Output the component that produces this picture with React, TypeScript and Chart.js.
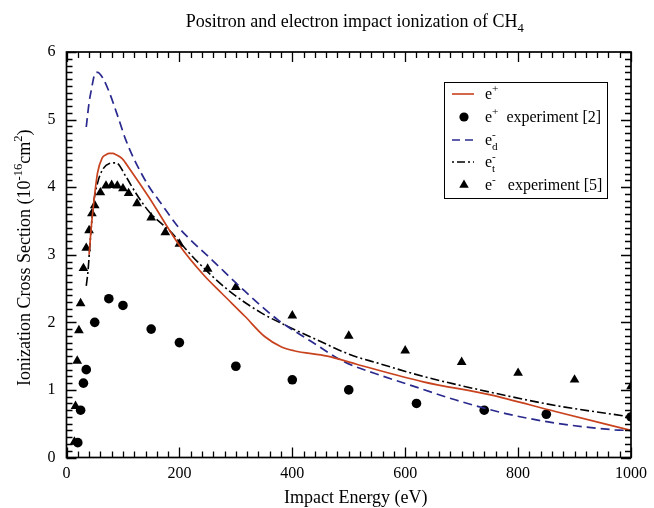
import React, { useEffect, useRef } from 'react';
import { Chart, registerables } from 'chart.js';

Chart.register(...registerables);

// ---------------- data ----------------
const X_MIN = 0;
const X_MAX = 1000;
const X_STEP = 200;
const X_MINOR = 20;
const Y_MIN = 0;
const Y_MAX = 6;
const Y_STEP = 1;
const Y_MINOR = 0.1;

const TITLE_MAIN = 'Positron and electron impact ionization of CH';
const TITLE_SUB = '4';
const X_TITLE = 'Impact Energy (eV)';

// e+ theory (red solid)
const positronTheoryE = [40, 44, 47, 55, 63, 70, 76, 82, 88, 99, 111, 146, 200, 243, 275, 316, 351, 380, 403, 462, 514, 632, 749, 866, 1000];
const positronTheorySigma = [3.0, 3.42, 3.67, 4.21, 4.43, 4.48, 4.50, 4.50, 4.48, 4.42, 4.28, 3.85, 3.14, 2.70, 2.43, 2.09, 1.79, 1.64, 1.58, 1.50, 1.38, 1.12, 0.93, 0.68, 0.40];

// e+ experiment [2] (circles)
const positronExpE = [20, 25, 30, 35, 50, 75, 100, 150, 200, 300, 400, 500, 620, 740, 850, 1000];
const positronExpSigma = [0.22, 0.70, 1.10, 1.30, 2.00, 2.35, 2.25, 1.90, 1.70, 1.35, 1.15, 1.00, 0.80, 0.70, 0.64, 0.60];

// e- (d) theory (blue dashed)
const electronDE = [35, 40, 44, 50, 55, 64, 76, 90, 105, 120, 146, 164, 199, 216, 257, 316, 374, 433, 491, 544, 602, 690, 778, 866, 971, 1000];
const electronDSigma = [4.89, 5.25, 5.44, 5.67, 5.70, 5.62, 5.40, 5.07, 4.70, 4.41, 4.01, 3.80, 3.40, 3.25, 2.93, 2.46, 2.04, 1.72, 1.42, 1.25, 1.09, 0.85, 0.65, 0.51, 0.41, 0.40];

// e- (t) theory (black dash-dot)
const electronTE = [35, 38, 42, 47, 55, 64, 76, 88, 105, 123, 146, 187, 199, 234, 286, 345, 392, 444, 503, 550, 632, 749, 866, 1000];
const electronTSigma = [2.54, 2.75, 3.2, 3.7, 4.06, 4.26, 4.35, 4.36, 4.16, 3.91, 3.64, 3.32, 3.20, 2.88, 2.48, 2.14, 1.94, 1.74, 1.52, 1.40, 1.20, 0.97, 0.77, 0.60];

// e- experiment [5] (triangles)
const electronExpE = [14, 16, 19, 22, 25, 30, 35, 40, 45, 50, 60, 70, 80, 90, 100, 110, 125, 150, 175, 200, 250, 300, 400, 500, 600, 700, 800, 900, 1000];
const electronExpSigma = [0.23, 0.76, 1.43, 1.88, 2.28, 2.80, 3.10, 3.36, 3.61, 3.73, 3.92, 4.02, 4.03, 4.02, 3.98, 3.91, 3.76, 3.55, 3.33, 3.16, 2.79, 2.52, 2.10, 1.80, 1.58, 1.41, 1.25, 1.15, 1.05];

// ---------------- styles ----------------
const RED = '#c8421e';
const BLUE = '#2a2a8e';
const BLACK = '#000000';
const FONT = "'Liberation Serif', 'Times New Roman', serif";
const DASH_D = [9, 5];
const DASH_T = [9, 3, 2, 3];

const toXY = (xs: number[], ys: number[]) => xs.map((x, i) => ({ x, y: ys[i] }));

type Seg = { t: string; m?: 'n' | 'sup' | 'sub' | 'supsub'; sub?: string };

function segWidth(ctx: CanvasRenderingContext2D, s: Seg, size: number) {
  const m = s.m || 'n';
  if (m === 'n') {
    ctx.font = `${size}px ${FONT}`;
    return ctx.measureText(s.t).width;
  }
  ctx.font = `${size * 0.7}px ${FONT}`;
  if (m === 'supsub') {
    return Math.max(ctx.measureText(s.t).width, ctx.measureText(s.sub || '').width);
  }
  return ctx.measureText(s.t).width;
}

function richWidth(ctx: CanvasRenderingContext2D, segs: Seg[], size: number) {
  return segs.reduce((w, s) => w + segWidth(ctx, s, size), 0);
}

function drawRich(ctx: CanvasRenderingContext2D, x: number, y: number, segs: Seg[], size: number) {
  let cx = x;
  ctx.textBaseline = 'alphabetic';
  ctx.textAlign = 'left';
  for (const s of segs) {
    const m = s.m || 'n';
    const w = segWidth(ctx, s, size);
    if (m === 'n') {
      ctx.font = `${size}px ${FONT}`;
      ctx.fillText(s.t, cx, y);
    } else {
      ctx.font = `${size * 0.7}px ${FONT}`;
      if (m === 'sup' || m === 'supsub') ctx.fillText(s.t, cx, y - size * 0.45);
      if (m === 'sub') ctx.fillText(s.t, cx, y + size * 0.28);
      if (m === 'supsub') ctx.fillText(s.sub || '', cx, y + size * 0.3);
    }
    cx += w;
  }
}

const legendItems: { kind: string; segs: Seg[] }[] = [
  { kind: 'red', segs: [{ t: 'e' }, { t: '+', m: 'sup' }] },
  { kind: 'circle', segs: [{ t: 'e' }, { t: '+', m: 'sup' }, { t: '  experiment [2]' }] },
  { kind: 'blue', segs: [{ t: 'e' }, { t: '-', m: 'supsub', sub: 'd' }] },
  { kind: 'dashdot', segs: [{ t: 'e' }, { t: '-', m: 'supsub', sub: 't' }] },
  { kind: 'triangle', segs: [{ t: 'e' }, { t: '-', m: 'sup' }, { t: '   experiment [5]' }] },
];

const framePlugin = {
  id: 'framePlugin',
  afterDraw(chart: any) {
    const { ctx, chartArea: a, scales } = chart;
    const xs = scales.x;
    const ys = scales.y;
    ctx.save();
    ctx.setLineDash([]);
    ctx.lineCap = 'butt';
    ctx.strokeStyle = '#000';
    ctx.fillStyle = '#000';
    // frame
    ctx.lineWidth = 1.7;
    ctx.strokeRect(a.left, a.top, a.right - a.left, a.bottom - a.top);
    // ticks
    ctx.lineWidth = 1.3;
    const nx = Math.round((X_MAX - X_MIN) / X_MINOR);
    for (let i = 0; i <= nx; i++) {
      const v = X_MIN + i * X_MINOR;
      const px = Math.round(xs.getPixelForValue(v)) + 0.5;
      const major = Math.abs(v / X_STEP - Math.round(v / X_STEP)) < 1e-6;
      const len = major ? 10 : 6;
      ctx.beginPath();
      ctx.moveTo(px, a.bottom);
      ctx.lineTo(px, a.bottom - len);
      ctx.moveTo(px, a.top);
      ctx.lineTo(px, a.top + len);
      ctx.stroke();
    }
    const ny = Math.round((Y_MAX - Y_MIN) / Y_MINOR);
    for (let i = 0; i <= ny; i++) {
      const v = Y_MIN + i * Y_MINOR;
      const py = Math.round(ys.getPixelForValue(v)) + 0.5;
      const major = Math.abs(v / Y_STEP - Math.round(v / Y_STEP)) < 1e-6;
      const len = major ? 10 : 6;
      ctx.beginPath();
      ctx.moveTo(a.left, py);
      ctx.lineTo(a.left + len, py);
      ctx.moveTo(a.right, py);
      ctx.lineTo(a.right - len, py);
      ctx.stroke();
    }

    // title
    const tsegs: Seg[] = [{ t: TITLE_MAIN }, { t: TITLE_SUB, m: 'sub' }];
    const tw = richWidth(ctx, tsegs, 18);
    drawRich(ctx, (a.left + a.right) / 2 + 6 - tw / 2, 27, tsegs, 18);

    // x title
    ctx.font = `18px ${FONT}`;
    ctx.textAlign = 'center';
    ctx.textBaseline = 'alphabetic';
    ctx.fillText(X_TITLE, (a.left + a.right) / 2 + 7, 503);

    // y title
    const ysegs: Seg[] = [
      { t: 'Ionization Cross Section (10' },
      { t: '-16', m: 'sup' },
      { t: 'cm' },
      { t: '2', m: 'sup' },
      { t: ')' },
    ];
    const yw = richWidth(ctx, ysegs, 18);
    ctx.save();
    ctx.translate(30, (a.top + a.bottom) / 2 + 3);
    ctx.rotate(-Math.PI / 2);
    drawRich(ctx, -yw / 2, 0, ysegs, 18);
    ctx.restore();

    // legend
    const lx = 444.5, ly = 82.5, lw = 163, lh = 116;
    ctx.fillStyle = '#fff';
    ctx.fillRect(lx, ly, lw, lh);
    ctx.strokeStyle = '#000';
    ctx.lineWidth = 1;
    ctx.strokeRect(lx, ly, lw, lh);
    const rowY = [94, 117, 140, 162, 185];
    legendItems.forEach((it, i) => {
      const yy = rowY[i];
      ctx.save();
      if (it.kind === 'red' || it.kind === 'blue' || it.kind === 'dashdot') {
        ctx.strokeStyle = it.kind === 'red' ? RED : it.kind === 'blue' ? BLUE : BLACK;
        ctx.lineWidth = 1.6;
        ctx.setLineDash(it.kind === 'red' ? [] : it.kind === 'blue' ? [8, 5] : [2, 3, 8, 3]);
        ctx.beginPath();
        ctx.moveTo(452, yy);
        ctx.lineTo(474, yy);
        ctx.stroke();
      } else if (it.kind === 'circle') {
        ctx.fillStyle = '#000';
        ctx.beginPath();
        ctx.arc(464, yy, 4.6, 0, Math.PI * 2);
        ctx.fill();
      } else {
        ctx.fillStyle = '#000';
        const r = 5.5;
        ctx.beginPath();
        ctx.moveTo(464, yy - r);
        ctx.lineTo(464 + r * 0.866, yy + r / 2);
        ctx.lineTo(464 - r * 0.866, yy + r / 2);
        ctx.closePath();
        ctx.fill();
      }
      ctx.restore();
      ctx.fillStyle = '#000';
      drawRich(ctx, 485, yy + 5, it.segs, 16);
    });
    ctx.restore();
  },
};

export default function App() {
  const ref = useRef<HTMLCanvasElement | null>(null);
  useEffect(() => {
    if (!ref.current) return;
    const chart = new Chart(ref.current, {
      type: 'scatter',
      data: {
        datasets: [
          {
            label: 'e+',
            data: toXY(positronTheoryE, positronTheorySigma),
            showLine: true,
            borderColor: RED,
            borderWidth: 1.7,
            pointRadius: 0,
            cubicInterpolationMode: 'monotone',
          } as any,
          {
            label: 'e-d',
            data: toXY(electronDE, electronDSigma),
            showLine: true,
            borderColor: BLUE,
            borderWidth: 1.7,
            borderDash: DASH_D,
            pointRadius: 0,
            cubicInterpolationMode: 'monotone',
          } as any,
          {
            label: 'e-t',
            data: toXY(electronTE, electronTSigma),
            showLine: true,
            borderColor: BLACK,
            borderWidth: 1.6,
            borderDash: DASH_T,
            pointRadius: 0,
            cubicInterpolationMode: 'monotone',
          } as any,
          {
            label: 'e+ experiment [2]',
            data: toXY(positronExpE, positronExpSigma),
            showLine: false,
            pointStyle: 'circle',
            pointRadius: 4.8,
            backgroundColor: '#000',
            borderColor: '#000',
            borderWidth: 0,
          } as any,
          {
            label: 'e- experiment [5]',
            data: toXY(electronExpE, electronExpSigma),
            showLine: false,
            pointStyle: 'triangle',
            pointRadius: 5.6,
            backgroundColor: '#000',
            borderColor: '#000',
            borderWidth: 0,
          } as any,
        ],
      },
      options: {
        animation: false,
        responsive: false,
        devicePixelRatio: 1,
        layout: { padding: { left: 0, right: 17, top: 52, bottom: 0 } },
        plugins: {
          legend: { display: false },
          title: { display: false },
          tooltip: { enabled: false },
        },
        scales: {
          x: {
            type: 'linear',
            min: X_MIN,
            max: X_MAX,
            grid: { display: false, drawTicks: false },
            border: { display: false },
            ticks: {
              stepSize: X_STEP,
              color: '#000',
              font: { family: FONT, size: 16 },
              padding: 7,
              maxRotation: 0,
              callback: (v: any) => String(v),
            },
            afterFit: (s: any) => {
              s.height = 50.5;
            },
          },
          y: {
            type: 'linear',
            min: Y_MIN,
            max: Y_MAX,
            grid: { display: false, drawTicks: false },
            border: { display: false },
            ticks: {
              stepSize: Y_STEP,
              color: '#000',
              font: { family: FONT, size: 16 },
              padding: 11,
              callback: (v: any) => String(v),
            },
            afterFit: (s: any) => {
              s.width = 66.5;
            },
          },
        },
      } as any,
      plugins: [framePlugin],
    });
    return () => chart.destroy();
  }, []);
  return (
    <div style={{ position: 'absolute', left: 0, top: 0, width: 654, height: 508, background: '#fff' }}>
      <canvas ref={ref} width={654} height={508} style={{ display: 'block' }} />
    </div>
  );
}
